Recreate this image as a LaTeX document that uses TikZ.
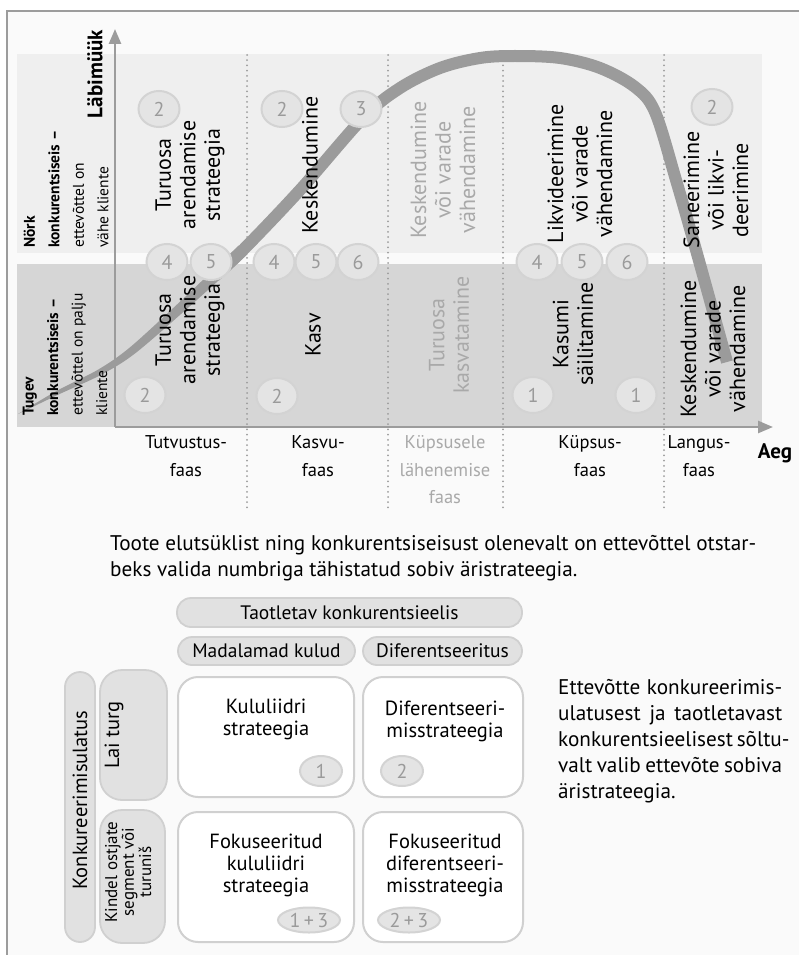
\documentclass[tikz,border=0pt]{standalone}
\usepackage{fontspec}
\setmainfont{PT Sans}
\usetikzlibrary{arrows.meta,shapes.geometric}

\definecolor{framegray}{HTML}{9C9C9C}
\definecolor{bgpage}{HTML}{FAFAFA}
\definecolor{panellight}{HTML}{EFEFEF}
\definecolor{paneldark}{HTML}{D6D6D6}
\definecolor{bubblefill}{HTML}{E4E4E4}
\definecolor{bubbleedge}{HTML}{D3D3D3}
\definecolor{numgray}{HTML}{9A9A9A}
\definecolor{fadedtext}{HTML}{A9A9A9}
\definecolor{curvegray}{HTML}{9B9B9B}
\definecolor{pillfill}{HTML}{E1E1E1}
\definecolor{pilledge}{HTML}{D0D0D0}

\newcommand{\colfont}{\fontsize{22}{24.5}\selectfont}
\newcommand{\sidefont}{\fontsize{15.5}{24.5}\selectfont}
\newcommand{\phasefont}{\fontsize{18.5}{27.5}\selectfont}
\newcommand{\bodyfont}{\fontsize{21.2}{26}\selectfont}
\newcommand{\numfont}{\fontsize{20}{20}\selectfont}
\newcommand{\boxfont}{\fontsize{20.5}{22}\selectfont}
\newcommand{\pillfont}{\fontsize{19.5}{22}\selectfont}
\newcommand{\nichefont}{\fontsize{17}{14}\selectfont}
\newcommand{\axisfont}{\fontsize{21}{21}\selectfont\bfseries}

\begin{document}
\begin{tikzpicture}[x=1pt,y=-1pt,
  every node/.style={inner sep=0pt},
  bubble/.style={ellipse, draw=bubbleedge, fill=bubblefill, line width=2pt,
    minimum width=41pt, minimum height=36pt, text=numgray, font=\numfont},
  smallbubble/.style={bubble, minimum width=42pt, minimum height=30pt},
  widebubble/.style={bubble, minimum width=62pt, minimum height=25pt},
  coltext/.style={rotate=90, align=center, font=\colfont},
  faded/.style={text=fadedtext},
  sidelabel/.style={rotate=90, align=left, font=\sidefont, anchor=north west},
  phase/.style={align=center, font=\phasefont},
  dotline/.style={draw=framegray, line width=2pt, line cap=round, dash pattern=on 0pt off 5.2pt},
  axisline/.style={draw=framegray, line width=2.5pt, -{Triangle[length=15pt,width=12pt]}},
  pill/.style={draw=pilledge, fill=pillfill, line width=1.8pt, font=\pillfont},
  stratbox/.style={draw=pilledge, fill=white, line width=2pt, rounded corners=20pt},
]
\useasboundingbox (0,0) rectangle (799,955);

% page frame
\fill[bgpage] (7,11) rectangle (799,955);
\draw[framegray, line width=2pt] (7,962) -- (7,11) -- (806,11);

% competitive position bands
\fill[panellight] (17,54) rectangle (762,253);
\fill[paneldark] (17,264) rectangle (762,427);

% phase separators
\foreach \px in {247,388,503,664}
  \draw[dotline] (\px,55) -- (\px,508);

% axes
\coordinate (O) at (115,427);
\coordinate (ytip) at (115,29);
\coordinate (xtip) at (773,427);
\draw[axisline] (O) -- (ytip);
\draw[axisline] (O) -- (xtip);
\node[font=\axisfont, rotate=90] (sales) at (95,74) {Läbimüük};
\node[font=\axisfont] (time) at (775,453) {Aeg};

% sales curve: tapering tail, then the full-width stroke
\fill[curvegray]
  plot[smooth, tension=0.5] coordinates {(18,414) (56.1,391.2) (98.5,369.4) (130.5,346.9) (183.6,298.3) (238.6,245.6)}
  -- plot[smooth, tension=0.5] coordinates {(247.4,254.4) (190.4,305.7) (135.5,353.1) (101.5,374.6) (57.9,394.8) (18,414)}
  -- cycle;
\draw[curvegray, line width=12pt] plot[smooth, tension=0.55] coordinates {
  (215,276) (243,250) (300,190) (363,118) (400,88) (440,68) (480,58) (515,56)
  (560,58) (600,68) (635,87) (655,112) (676,180) (696,250) (727,362)};

% side labels
\node[sidelabel] (weak) at (23.5,248) {\textbf{Nörk}\\\textbf{konkurentsiseis –}\\ettevõttel on\\vähe kliente};
\node[sidelabel] (strong) at (22.5,416) {\textbf{Tugev}\\\textbf{konkurentsiseis –}\\ettevõttel on palju\\kliente};

% strategy numbers
\node[bubble] (w1) at (159,109) {2};
\node[bubble] (w2a) at (282,109) {2};
\node[bubble] (w2b) at (361,109) {3};
\node[bubble] (w5) at (712,107) {2};
\node[bubble] (m1a) at (167,262) {4};
\node[bubble] (m1b) at (211,262) {5};
\node[bubble] (m2a) at (274,262) {4};
\node[bubble] (m2b) at (316,262) {5};
\node[bubble] (m2c) at (358,262) {6};
\node[bubble] (m4a) at (537,262) {4};
\node[bubble] (m4b) at (582,262) {5};
\node[bubble] (m4c) at (627,262) {6};
\node[bubble] (s1) at (145,395) {2};
\node[bubble] (s2) at (277,396) {2};
\node[bubble] (s4a) at (533,395) {1};
\node[bubble] (s4b) at (636,395) {1};

% strategies for weak position
\node[coltext] (wt1) at (190,175) {Turuosa\\arendamise\\strateegia};
\node[coltext] (wt2) at (310,165) {Keskendumine};
\node[coltext, faded] (wt3) at (443,170) {Keskendumine\\või varade\\vähendamine};
\node[coltext] (wt4) at (580,174) {Likvideerimine\\või varade\\vähendamine};
\node[coltext] (wt5) at (716,190) {Saneerimine\\või likvi-\\deerimine};

% strategies for strong position
\node[coltext] (st1) at (190,330) {Turuosa\\arendamise\\strateegia};
\node[coltext] (st2) at (313,335) {Kasv};
\node[coltext, faded] (st3) at (449,335) {Turuosa\\kasvatamine};
\node[coltext] (st4) at (573,334) {Kasumi\\säilitamine};
\node[coltext] (st5) at (713,349) {Keskendumine\\või varade\\vähendamine};

% life-cycle phases
\node[phase] (ph1) at (186,456) {Tutvustus-\\faas};
\node[phase] (ph2) at (318,456) {Kasvu-\\faas};
\node[phase, faded] (ph3) at (445,470) {Küpsusele\\lähenemise\\faas};
\node[phase] (ph4) at (590,456) {Küpsus-\\faas};
\node[phase] (ph5) at (699,456) {Langus-\\faas};

% caption of the chart
\node[anchor=north west, align=left, font=\bodyfont] (note) at (110,535)
  {Toote elutsüklist ning konkurentsiseisust olenevalt on ettevõttel otstar-\\beks valida numbriga tähistatud sobiv äristrateegia.};

% generic strategies matrix
\node[pill, rounded corners=14pt, minimum width=345pt, minimum height=29pt] (goal) at (349.5,612.5) {Taotletav konkurentsieelis};
\node[pill, rounded corners=14pt, minimum width=177pt, minimum height=28pt] (lowcost) at (266.5,651) {Madalamad kulud};
\node[pill, rounded corners=14pt, minimum width=159pt, minimum height=28pt] (diff) at (442.5,651) {Diferentseeritus};

\node[pill, rounded corners=15pt, rotate=90, minimum width=270pt, minimum height=30pt] (scopepill) at (80,807) {};
\node[rotate=90, font=\boxfont] (scope) at (80,800) {Konkureerimisulatus};
\node[pill, rounded corners=22pt, minimum width=67pt, minimum height=130pt] (broadpill) at (133.5,735) {};
\node[rotate=90, font=\boxfont] (broad) at (114,735) {Lai turg};
\node[pill, rounded corners=22pt, minimum width=65pt, minimum height=133pt] (nichepill) at (132.5,876.5) {};
\node[rotate=90, align=center, font=\nichefont, anchor=north] (niche) at (105,872) {Kindel ostjate\\segment või\\turuniš};

\node[stratbox, minimum width=176pt, minimum height=120pt] (costbox) at (266,737) {};
\node[stratbox, minimum width=160pt, minimum height=120pt] (diffbox) at (443,737) {};
\node[stratbox, minimum width=176pt, minimum height=130pt] (fcostbox) at (266,877) {};
\node[stratbox, minimum width=160pt, minimum height=130pt] (fdiffbox) at (443,877) {};

\node[align=center, font=\boxfont] (costtxt) at (266,719) {Kululiidri\\strateegia};
\node[align=center, font=\boxfont] (difftxt) at (445,721) {Diferentseeri-\\misstrateegia};
\node[align=center, font=\boxfont] (fcosttxt) at (266,865) {Fokuseeritud\\kululiidri\\strateegia};
\node[align=center, font=\boxfont] (fdifftxt) at (445,865) {Fokuseeritud\\diferentseeri-\\misstrateegia};

\node[smallbubble] (n1) at (321,771) {1};
\node[smallbubble] (n2) at (402,771) {2};
\node[widebubble] (n13) at (309,920) {1\,+\,3};
\node[widebubble] (n23) at (409,920) {2\,+\,3};

% side note
\node[anchor=north west, align=left, font=\bodyfont] (aside) at (558,679)
  {\makebox[224pt][s]{Ettevõtte konkureerimis-}\\
   \makebox[224pt][s]{ulatusest ja taotletavast}\\
   \makebox[224pt][s]{konkurentsieelisest sõltu-}\\
   \makebox[224pt][s]{valt valib ettevõte sobiva}\\
   äristrateegia.};
\end{tikzpicture}
\end{document}
